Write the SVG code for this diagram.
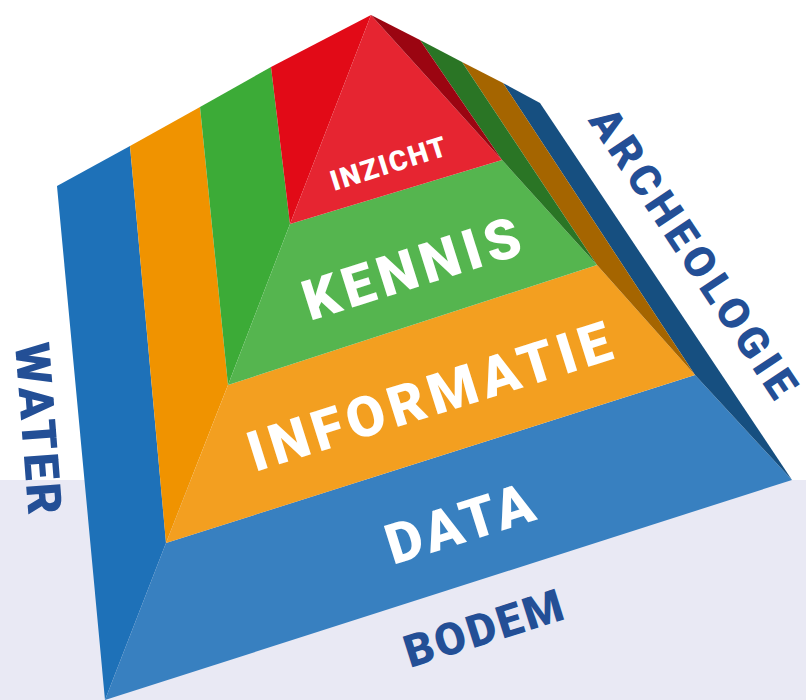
<svg xmlns="http://www.w3.org/2000/svg" width="806" height="700" viewBox="0 0 806 700">
<style>
.lbl{font-family:Roboto,"Liberation Sans",sans-serif;font-weight:900;}
.w{fill:#ffffff;}
.b{fill:#234f96;}
</style>
<rect x="0" y="0" width="806" height="480" fill="#ffffff"/>
<rect x="0" y="480" width="806" height="220" fill="#e9e9f4"/>
<g id="data">
<polygon points="57,186 130,146 166,543 105,700" fill="#1e71b8"/>
<polygon points="166,543 105,700 792,480 695,375" fill="#3880c0"/>
<polygon points="503,83 540,103 792,480 695,375" fill="#164f80"/>
<text class="lbl w" font-size="56" textLength="152" lengthAdjust="spacing" transform="translate(393,565) rotate(-17.5)">DATA</text>
</g>
<g id="informatie">
<polygon points="130,146 200,107 228,385 166,543" fill="#f09300"/>
<polygon points="228,385 166,543 695,375 597,265" fill="#f39f20"/>
<polygon points="462,62 503,83 695,375 597,265" fill="#a56500"/>
<text class="lbl w" font-size="56" textLength="378" lengthAdjust="spacing" transform="translate(255,472) rotate(-17.5)">INFORMATIE</text>
</g>
<g id="kennis">
<polygon points="200,107 271,67 290,224 228,385" fill="#3cab37"/>
<polygon points="290,224 228,385 597,265 502,160" fill="#55b54f"/>
<polygon points="420,40 462,62 597,265 502,160" fill="#2a7525"/>
<text class="lbl w" font-size="56" textLength="225" lengthAdjust="spacing" transform="translate(310,321) rotate(-17.5)">KENNIS</text>
</g>
<g id="inzicht">
<polygon points="271,67 371,15 290,224" fill="#e20a17"/>
<polygon points="371,15 290,224 502,160" fill="#e62531"/>
<polygon points="371,15 420,40 502,160" fill="#9b0511"/>
<text class="lbl w" font-size="28" textLength="120" lengthAdjust="spacing" transform="translate(334,191) rotate(-17.5)">INZICHT</text>
</g>
<g id="water">
<text class="lbl b" font-size="48" textLength="172" lengthAdjust="spacing" transform="translate(15,344) rotate(85.5)">WATER</text>
</g>
<g id="archeologie">
<text class="lbl b" font-size="43" text-anchor="middle" textLength="338" lengthAdjust="spacing" transform="translate(681,261) rotate(56.4)">ARCHEOLOGIE</text>
</g>
<g id="bodem">
<text class="lbl b" font-size="45" textLength="164" lengthAdjust="spacing" transform="translate(410,668) rotate(-17.5)">BODEM</text>
</g>
</svg>
